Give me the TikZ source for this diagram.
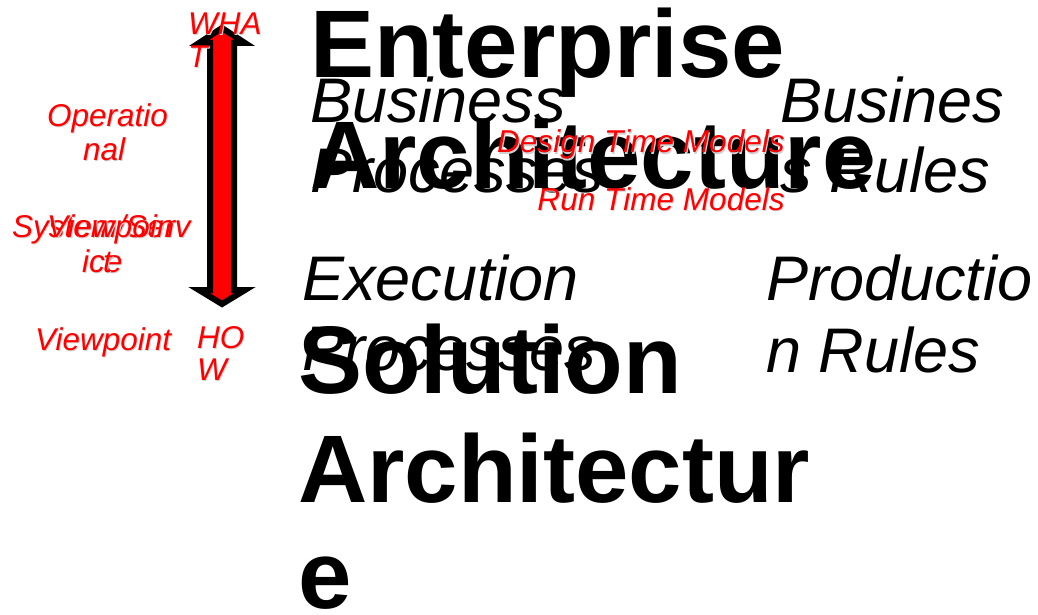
\documentclass[tikz,border=0pt]{standalone}
\usepackage{fontspec}
\setmainfont{Liberation Sans}
\tikzset{
  bigtitle/.style={font=\fontsize{96}{96}\selectfont\bfseries, inner sep=0pt, anchor=base west, text=black},
  midtext/.style={font=\fontsize{63}{63}\selectfont\itshape, inner sep=0pt, anchor=base west, text=black},
  redlab/.style={font=\fontsize{31.5}{31.5}\selectfont\itshape, inner sep=0pt, anchor=base west, text=red},
  redlabshad/.style={redlab, text=black!18},
  modlab/.style={font=\fontsize{31.6}{31.6}\selectfont\itshape, inner sep=0pt, anchor=base east, text=red},
  modlabshad/.style={modlab, text=black!18},
  bigarrow/.style={draw=black, fill=red, line width=6pt, line join=miter}
}
\newcommand\mylab[4]{%
  \node[#1shad, xshift=1pt, yshift=-1pt] (#2s) at (#3) {#4};
  \node[#1] (#2) at (#3) {#4};}
\begin{document}
\begin{tikzpicture}[x=1pt, y=-1pt]
\useasboundingbox (0,0) rectangle (1038,615);
% arrow
\draw[bigarrow] (222,28) -- (245,43) -- (234,43) -- (234,290) -- (245,290)
  -- (222,304) -- (199,290) -- (210,290) -- (210,43) -- (199,43) -- cycle;
\coordinate (arrowtop) at (222,28);
% black titles
\node[bigtitle] (ent1) at (310,78) {Enterprise};
\node[bigtitle] (ent2) at (310,188) {Architecture};
\node[midtext] (bp1) at (310,122) {Business};
\node[midtext] (bp2) at (310,192) {Processes};
\node[midtext] (br1) at (780,122) {Busines};
\node[midtext] (br2) at (780,192) {s Rules};
\node[midtext] (ep1) at (302,300) {Execution};
\node[midtext] (ep2) at (302,370) {Processes};
\node[midtext] (pr1) at (766,300) {Productio};
\node[midtext] (pr2) at (766,372) {n Rules};
\node[bigtitle] (sol1) at (298,393) {Solution};
\node[bigtitle] (sol2) at (298,502) {Architectur};
\node[bigtitle] (sol3) at (298,608) {e};
% red labels
\mylab{modlab}{dtm}{785,153}{Design Time Models}
\mylab{modlab}{rtm}{785,210}{Run Time Models}
\mylab{redlab}{what1}{188,35}{WHA}
\mylab{redlab}{what2}{188,68}{T}
\mylab{redlab}{how1}{197,348}{HO}
\mylab{redlab}{how2}{197,380}{W}
\mylab{redlab}{op1}{47,127}{Operatio}
\mylab{redlab}{op2}{83,160}{nal}
\mylab{redlab}{ss1}{12,237}{System/Serv}
\mylab{redlab}{ss2}{82,272}{ice}
\mylab{redlab}{vpa1}{47,237}{Viewpoin}
\mylab{redlab}{vpa2}{103,272}{t}
\mylab{redlab}{vp}{35,350}{Viewpoint}
\end{tikzpicture}
\end{document}
